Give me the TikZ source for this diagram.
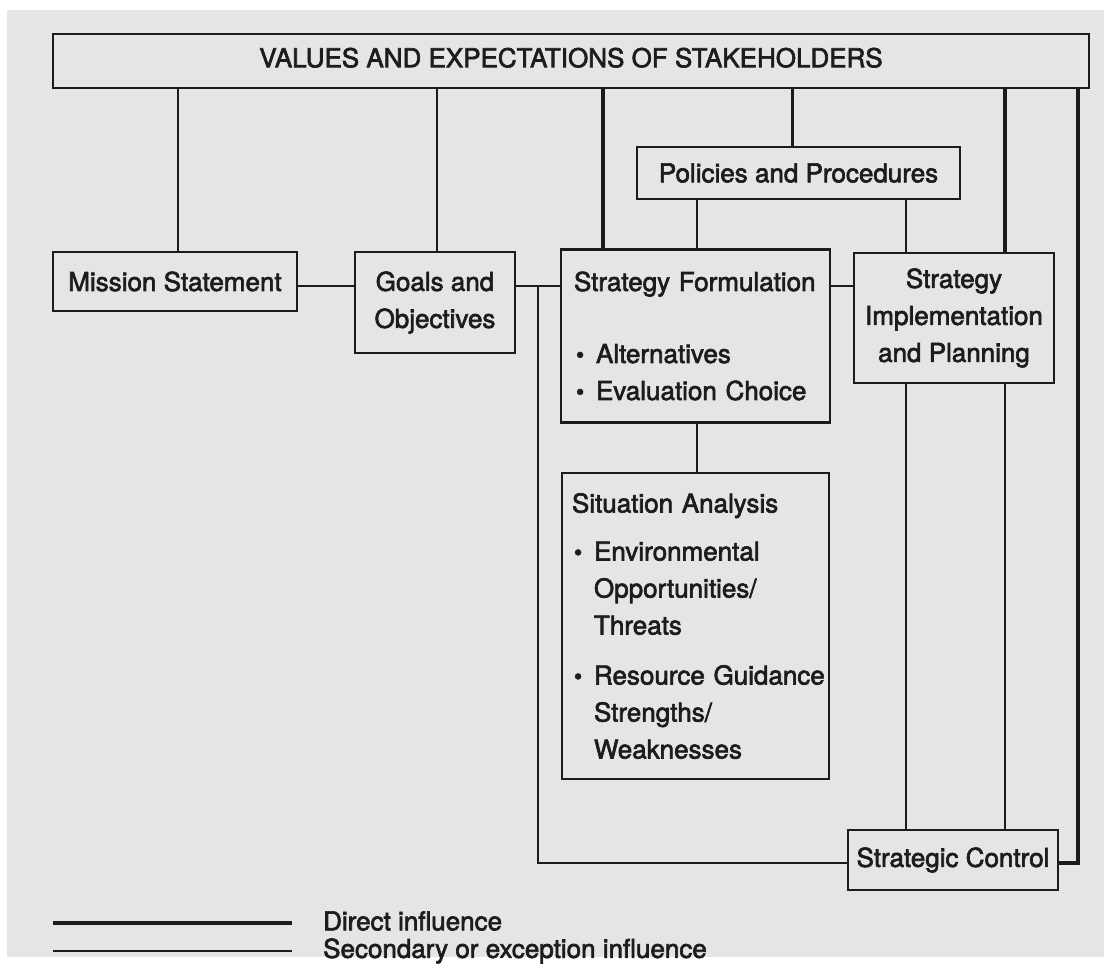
\documentclass[tikz,border=0pt]{standalone}
\usepackage{fontspec}
\setmainfont{TeX Gyre Heros}[FakeBold=2.4]
\usetikzlibrary{calc}

\definecolor{paper}{RGB}{229,229,229}
\definecolor{ink}{RGB}{28,28,28}

\newcommand{\bul}{\hspace*{2pt}\makebox[20pt][l]{\scalebox{0.9}{\textbullet}}}
\newcommand{\ind}{\hspace*{22pt}}

\tikzset{
  box/.style={draw=ink, line width=2.3pt, text=ink, inner sep=0pt,
    font=\fontsize{26}{37}\selectfont},
  listbox/.style={box, align=left, inner xsep=10pt},
  legend/.style={anchor=west, text=ink, inner sep=0pt, font=\fontsize{26}{37}\selectfont},
  direct/.style={draw=ink, line width=4.5pt},
  secondary/.style={draw=ink, line width=2.6pt}
}

\begin{document}
\begin{tikzpicture}[x=1pt,y=-1pt]
\useasboundingbox (0,0) rectangle (1104,967);
\fill[white] (0,0) rectangle (1104,967);
\fill[paper] (7,10) rectangle (1104,957);

% boxes
\node[box, minimum width=1036, minimum height=54, text depth=7pt] (top) at (571,61) {VALUES AND EXPECTATIONS OF STAKEHOLDERS};
\node[box, minimum width=323, minimum height=52] (policies) at (798.5,173) {Policies and Procedures};
\node[box, minimum width=244, minimum height=59] (mission) at (175,281.5) {Mission Statement};
\node[box, align=center, minimum width=160, minimum height=101] (goals) at (435,302.5) {Goals and\\Objectives};
\node[listbox, text width=243, inner xsep=13, minimum height=173] (sf) at (695.5,336)
  {Strategy Formulation\\[35pt]\bul Alternatives\\\bul Evaluation Choice};
\node[box, align=center, minimum width=200, minimum height=130] (si) at (954,318) {Strategy\\Implementation\\and Planning};
\node[listbox, text width=247, minimum height=306] (sit) at (695.5,626)
  {Situation Analysis\\[11pt]\bul Environmental\\\ind Opportunities/\\\ind Threats\\[13pt]\bul\mbox{Resource Guidance}\\\ind Strengths/\\\ind Weaknesses};
\node[box, minimum width=210, minimum height=60] (sc) at (953,860) {Strategic Control};

\coordinate (row) at (0,286);
\coordinate (tap) at ($(goals.east |- row)!0.5!(sf.west |- row)$);

% from the stakeholders
\draw[secondary] ($(mission.north)+(3,0)$) -- ($(mission.north |- top.south)+(3,0)$);
\draw[secondary] ($(goals.north)+(2,0)$) -- ($(goals.north |- top.south)+(2,0)$);
\draw[direct] ($(sf.north west)+(43,0)$) -- ($(sf.north west |- top.south)+(43,0)$);
\draw[secondary] ($(policies.north)+(-6,0)$) -- ($(policies.north |- top.south)+(-6,0)$);
\draw[direct] ($(si.north east)+(-50,0)$) -- ($(si.north east |- top.south)+(-50,0)$);
\draw[direct] ($(top.south east)+(-12,0)$) |- ($(sc.east)+(0,3)$);

% policies down to formulation and implementation
\draw[secondary] ($(sf.north west)+(137,0)$) -- ($(sf.north west |- policies.south)+(137,0)$);
\draw[secondary] ($(si.north west)+(53,0)$) -- ($(si.north west |- policies.south)+(53,0)$);

% middle row
\draw[secondary] (mission.east |- row) -- (goals.west |- row);
\draw[secondary] (goals.east |- row) -- (sf.west |- row);
\draw[secondary] (sf.east |- row) -- (si.west |- row);

% down to situation analysis and control
\draw[secondary] ($(sf.south west)+(137,0)$) -- ($(sf.south west |- sit.north)+(137,0)$);
\draw[secondary] ($(si.south west)+(53,0)$) -- ($(si.south west |- sc.north)+(53,0)$);
\draw[secondary] ($(si.south east)+(-50,0)$) -- ($(si.south east |- sc.north)+(-50,0)$);
\draw[secondary] (tap) |- ($(sc.west)+(0,3)$);

% legend
\node[legend] (ldirect) at (323,921) {Direct influence};
\node[legend] (lsecond) at (323,951) {Secondary or exception influence};
\draw[direct] ($(ldirect.west)+(-31,2)$) -- ($(ldirect.west)+(-270,2)$);
\draw[secondary] ($(lsecond.west)+(-31,0)$) -- ($(lsecond.west)+(-270,0)$);
\end{tikzpicture}
\end{document}
